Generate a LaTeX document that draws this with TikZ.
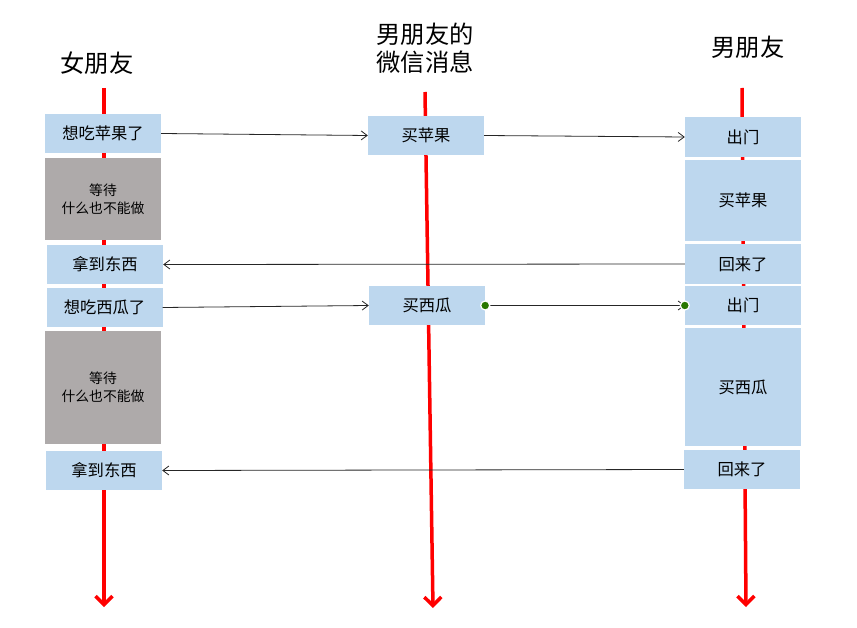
\documentclass[tikz,border=0pt]{standalone}
\usepackage{fontspec}
\setmainfont{Noto Sans CJK SC}
\usetikzlibrary{arrows.meta}
\definecolor{actblue}{RGB}{189,215,238}
\definecolor{waitgray}{RGB}{174,170,170}
\definecolor{lifered}{RGB}{255,0,0}
\definecolor{dotgreen}{RGB}{40,120,0}
\tikzset{
  act/.style={rectangle, fill=actblue, minimum width=116pt, minimum height=39pt,
    inner sep=0pt, font=\fontsize{16.3}{18}\selectfont, align=center},
  wait/.style={rectangle, fill=waitgray, minimum width=116pt, inner sep=0pt,
    font=\fontsize{13.8}{18}\selectfont, align=center},
  ttl/.style={font=\fontsize{24.3}{28}\selectfont, align=center},
  life/.style={-{Straight Barb[length=8.5pt,width=17pt]}, line width=3.5pt, lifered},
  msg/.style={-{Straight Barb[length=6pt,width=9pt]}, line width=0.8pt, black!85},
  dot/.style={circle, fill=dotgreen, draw=white, line width=1.2pt, minimum size=9pt, inner sep=0pt}
}
\begin{document}
\begin{tikzpicture}[x=1pt,y=-1pt]
  \useasboundingbox (0,0) rectangle (857,628);
  % titles
  \node[ttl] (herTitle) at (97,63) {女朋友};
  \node[ttl] (wxTitle) at (425,48) {男朋友的\\微信消息};
  \node[ttl] (himTitle) at (748,47) {男朋友};
  % lifelines
  \coordinate (herTop) at (104,88);   \coordinate (herEnd) at (104,607);
  \coordinate (wxTop) at (425,92);    \coordinate (wxEnd) at (433,608);
  \coordinate (himTop) at (742,88);   \coordinate (himEnd) at (746,607);
  \draw[life] (herTop) -- (herEnd);
  \draw[life] (wxTop) -- (wxEnd);
  \draw[life] (himTop) -- (himEnd);
  % girlfriend
  \node[act] (her1) at (103,133.5) {想吃苹果了};
  \node[wait, minimum height=82pt] (her2) at (103,199) {等待\\什么也不能做};
  \node[act] (her3) at (105,264.5) {拿到东西};
  \node[act] (her4) at (104.5,307.5) {想吃西瓜了};
  \node[wait, minimum height=113pt] (her5) at (103,387.5) {等待\\什么也不能做};
  \node[act] (her6) at (104,470.5) {拿到东西};
  % wechat
  \node[act] (wx1) at (426,135.5) {买苹果};
  \node[act] (wx2) at (427,305.5) {买西瓜};
  % boyfriend
  \node[act, minimum height=40pt] (him1) at (743,137) {出门};
  \node[act, minimum height=81pt] (him2) at (743,200.5) {买苹果};
  \node[act, minimum height=40pt] (him3) at (743,264) {回来了};
  \node[act] (him4) at (743,305.5) {出门};
  \node[act, minimum height=118pt] (him5) at (743,387) {买西瓜};
  \node[act] (him6) at (742,469.5) {回来了};
  % messages
  \draw[msg] (her1.east) -- (wx1.west);
  \draw[msg] (wx1.east) -- (him1.west);
  \draw[msg] (him3.west) -- (her3.east);
  \draw[msg] (her4.east) -- (wx2.west);
  \draw[msg] (wx2.east) -- (him4.west);
  \draw[msg] (him6.west) -- (her6.east);
  \node[dot] (dotA) at (wx2.east) {};
  \node[dot] (dotB) at (him4.west) {};
\end{tikzpicture}
\end{document}
